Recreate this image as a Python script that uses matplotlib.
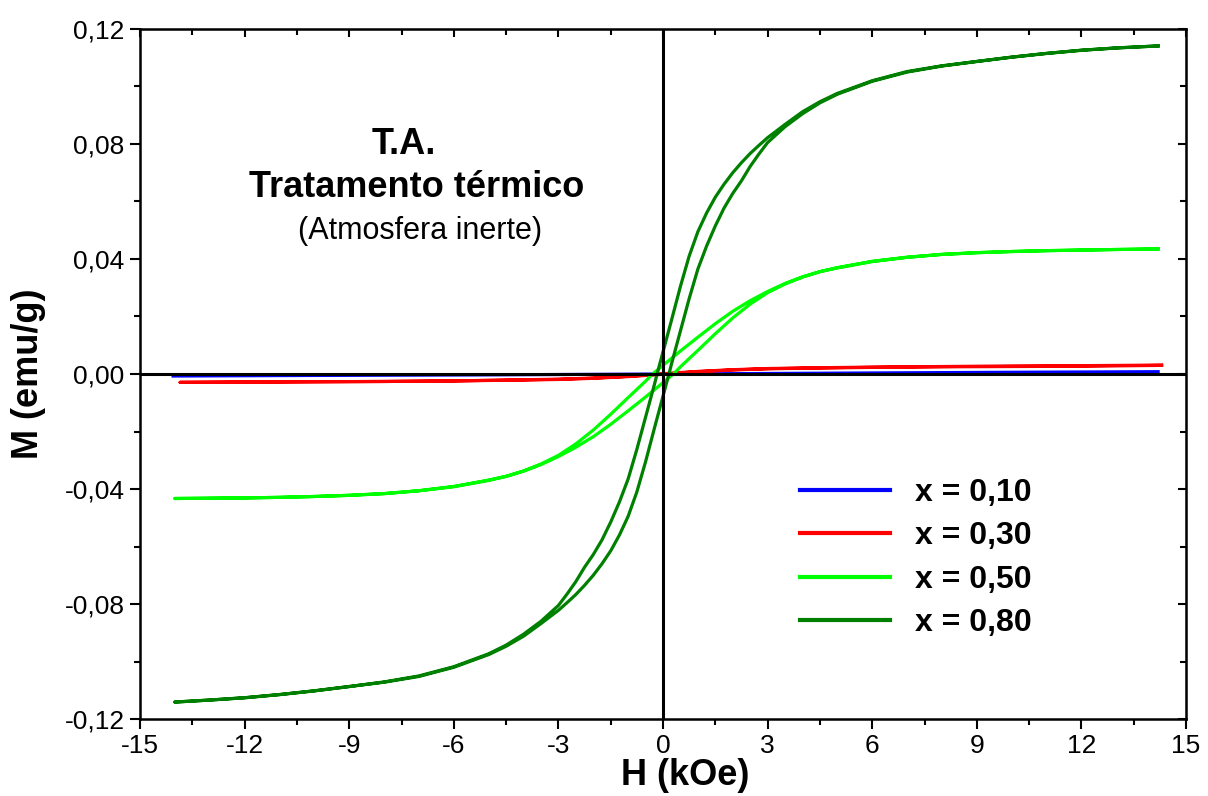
import matplotlib
matplotlib.use("Agg")
import matplotlib.pyplot as plt
from matplotlib.ticker import MultipleLocator

plt.rcParams['font.family'] = ['Liberation Sans', 'DejaVu Sans']
plt.rcParams['axes.unicode_minus'] = False

# x = 0,10 (almost flat)
h_010 = [-14.05, -10, -5, 0, 5, 10, 14.2]
m_010 = [-0.0007, -0.0005, -0.0003, 0.0, 0.0003, 0.0006, 0.0008]

# x = 0,30 : descending branch then ascending branch
h_030_down = [14.3, 12, 10, 8, 6, 4, 3, 2, 1, 0.5, 0, -0.5, -1, -2, -3, -4, -6, -8, -10, -12, -13.85]
m_030_down = [0.0031, 0.0029, 0.0028, 0.0026, 0.0024, 0.0021, 0.0019, 0.0015, 0.0009, 0.0005, 0.0001,
              -0.0004, -0.0008, -0.0014, -0.0018, -0.0020, -0.0024, -0.0026, -0.0027, -0.0028, -0.0029]
h_030_up = [-13.85, -12, -10, -8, -6, -4, -3, -2, -1, -0.5, 0, 0.5, 1, 2, 3, 4, 6, 8, 10, 12, 14.3]
m_030_up = [-0.0029, -0.0028, -0.0027, -0.0026, -0.0024, -0.0021, -0.0019, -0.0015, -0.0009, -0.0005, -0.0001,
            0.0004, 0.0008, 0.0014, 0.0018, 0.0020, 0.0023, 0.0025, 0.0026, 0.0027, 0.0030]

# x = 0,50
h_050_down = [14.2, 13, 12, 11, 10, 9, 8, 7, 6, 5, 4.5, 4, 3.5, 3, 2.5, 2, 1.5, 1, 0.5, 0, -0.3,
              -0.5, -1, -1.5, -2, -2.5, -3, -3.5, -4, -4.5, -5, -6, -7, -8, -9, -10, -11, -12, -13, -14]
m_050_down = [0.0435, 0.0433, 0.0431, 0.0429, 0.0426, 0.0422, 0.0416, 0.0406, 0.0392, 0.0370, 0.0356,
              0.0338, 0.0315, 0.0287, 0.0255, 0.0218, 0.0175, 0.0128, 0.0080, 0.0030, 0.0,
              -0.0025, -0.0082, -0.0140, -0.0195, -0.0243, -0.0283, -0.0313, -0.0337, -0.0356,
              -0.0369, -0.0391, -0.0406, -0.0416, -0.0422, -0.0426, -0.0429, -0.0431, -0.0432, -0.0433]
h_050_up = [-14, -13, -12, -11, -10, -9, -8, -7, -6, -5, -4.5, -4, -3.5, -3, -2.5, -2, -1.5, -1, -0.5, 0, 0.3,
            0.5, 1, 1.5, 2, 2.5, 3, 3.5, 4, 4.5, 5, 6, 7, 8, 9, 10, 11, 12, 13, 14.2]
m_050_up = [-0.0433, -0.0432, -0.0431, -0.0429, -0.0426, -0.0422, -0.0416, -0.0406, -0.0392, -0.0370, -0.0356,
            -0.0338, -0.0315, -0.0287, -0.0255, -0.0218, -0.0175, -0.0128, -0.0080, -0.0030, 0.0,
            0.0025, 0.0082, 0.0140, 0.0195, 0.0243, 0.0283, 0.0313, 0.0337, 0.0356,
            0.0369, 0.0391, 0.0406, 0.0416, 0.0422, 0.0426, 0.0429, 0.0431, 0.0433, 0.0435]

# x = 0,80
h_080_down = [14.2, 13, 12, 11, 10, 9, 8, 7, 6, 5, 4.5, 4, 3.5, 3, 2.75, 2.5, 2.25, 2, 1.75, 1.5, 1.25,
              1, 0.75, 0.5, 0.25, 0, -0.17, -0.25, -0.5, -0.75, -1, -1.25, -1.5, -1.75, -2, -2.25,
              -2.5, -2.75, -3, -3.5, -4, -4.5, -5, -6, -7, -8, -9, -10, -11, -12, -13, -14]
m_080_down = [0.1141, 0.1134, 0.1126, 0.1115, 0.1102, 0.1087, 0.1072, 0.1052, 0.1020, 0.0976, 0.0947,
              0.0912, 0.0868, 0.0822, 0.0795, 0.0767, 0.0735, 0.0700, 0.0660, 0.0615, 0.0560,
              0.0495, 0.0410, 0.0305, 0.0190, 0.0077, 0.0, -0.0038, -0.0150, -0.0262, -0.0365,
              -0.0445, -0.0515, -0.0577, -0.0628, -0.0672, -0.0722, -0.0765, -0.0805, -0.0860,
              -0.0905, -0.0943, -0.0973, -0.1018, -0.1050, -0.1071, -0.1087, -0.1102, -0.1115,
              -0.1126, -0.1134, -0.1141]
h_080_up = [-14, -13, -12, -11, -10, -9, -8, -7, -6, -5, -4.5, -4, -3.5, -3, -2.75, -2.5, -2.25, -2, -1.75,
            -1.5, -1.25, -1, -0.75, -0.5, -0.25, 0, 0.17, 0.25, 0.5, 0.75, 1, 1.25, 1.5, 1.75, 2, 2.25,
            2.5, 2.75, 3, 3.5, 4, 4.5, 5, 6, 7, 8, 9, 10, 11, 12, 13, 14.2]
m_080_up = [-0.1141, -0.1134, -0.1126, -0.1115, -0.1102, -0.1087, -0.1072, -0.1052, -0.1020, -0.0976,
            -0.0947, -0.0912, -0.0868, -0.0822, -0.0795, -0.0767, -0.0735, -0.0700, -0.0660, -0.0615,
            -0.0560, -0.0495, -0.0410, -0.0305, -0.0190, -0.0077, 0.0, 0.0038, 0.0150, 0.0262, 0.0365,
            0.0445, 0.0515, 0.0577, 0.0628, 0.0672, 0.0722, 0.0765, 0.0805, 0.0860,
            0.0905, 0.0943, 0.0973, 0.1018, 0.1050, 0.1071, 0.1087, 0.1102, 0.1115,
            0.1126, 0.1134, 0.1141]

labels = ['x = 0,10', 'x = 0,30', 'x = 0,50', 'x = 0,80']
colors = ['#0000ff', '#ff0000', '#00ff00', '#008000']

x_ticks = [-15, -12, -9, -6, -3, 0, 3, 6, 9, 12, 15]
y_ticks = [-0.12, -0.08, -0.04, 0.0, 0.04, 0.08, 0.12]
y_tick_labels = ['-0,12', '-0,08', '-0,04', '0,00', '0,04', '0,08', '0,12']

fig = plt.figure(figsize=(12.08, 7.96), dpi=100)
ax = fig.add_axes([0.1159, 0.0967, 0.8659, 0.8669])

lw = 2.3
ax.plot(h_010, m_010, color=colors[0], lw=lw, label=labels[0])
ax.plot(h_030_down + h_030_up, m_030_down + m_030_up, color=colors[1], lw=lw, label=labels[1])
ax.plot(h_050_down + h_050_up, m_050_down + m_050_up, color=colors[2], lw=lw, label=labels[2])
ax.plot(h_080_down + h_080_up, m_080_down + m_080_up, color=colors[3], lw=lw, label=labels[3])

ax.axhline(0, color='black', lw=2.2, zorder=4)
ax.axvline(0, color='black', lw=2.2, zorder=4)

ax.set_xlim(-15, 15)
ax.set_ylim(-0.12, 0.12)
ax.set_xticks(x_ticks)
ax.set_yticks(y_ticks)
ax.set_yticklabels(y_tick_labels)
ax.xaxis.set_minor_locator(MultipleLocator(1.5))
ax.yaxis.set_minor_locator(MultipleLocator(0.02))
ax.tick_params(which='major', direction='out', length=7, width=1.5, labelsize=19, pad=4)
ax.tick_params(which='minor', direction='out', length=4, width=1.5)
for s in ax.spines.values():
    s.set_linewidth(1.8)

# mirrored ticks pointing inward on top and right
top = ax.secondary_xaxis('top')
top.set_xticks(x_ticks)
top.xaxis.set_minor_locator(MultipleLocator(1.5))
top.tick_params(which='major', direction='in', length=6, width=1.5, labeltop=False)
top.tick_params(which='minor', direction='in', length=4, width=1.5)
right = ax.secondary_yaxis('right')
right.set_yticks(y_ticks)
right.yaxis.set_minor_locator(MultipleLocator(0.02))
right.tick_params(which='major', direction='in', length=6, width=1.5, labelright=False)
right.tick_params(which='minor', direction='in', length=4, width=1.5)

ax.set_xlabel('H (kOe)', fontsize=26, fontweight='bold')
ax.xaxis.set_label_coords(0.521, -0.057)
ax.set_ylabel('M (emu/g)', fontsize=26, fontweight='bold')
ax.yaxis.set_label_coords(-0.09, 0.5)

ax.text(-7.43, 0.0797, 'T.A.', fontsize=26, fontweight='bold', ha='center', va='center')
ax.text(-7.08, 0.0647, 'Tratamento térmico', fontsize=26, fontweight='bold', ha='center', va='center')
ax.text(-6.97, 0.0497, '(Atmosfera inerte)', fontsize=22, ha='center', va='center')

leg = ax.legend(loc='upper left', bbox_to_anchor=(0.619, 0.368), frameon=False,
                prop={'size': 23, 'weight': 'bold'}, handlelength=2.8, handletextpad=0.78,
                labelspacing=0.42, borderaxespad=0)
for line in leg.get_lines():
    line.set_linewidth(3)

fig.savefig('out.png', dpi=100)
